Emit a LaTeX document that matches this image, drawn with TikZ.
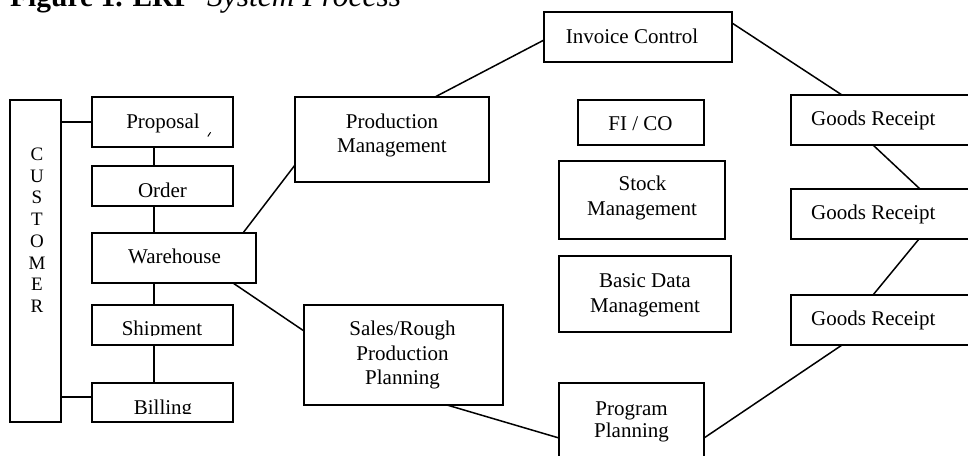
\documentclass[tikz,border=0pt]{standalone}
\usepackage{fontspec}
\setmainfont{Liberation Serif}
\usetikzlibrary{calc}
\begin{document}
\begin{tikzpicture}[x=1pt,y=-1pt,
  box/.style={draw,line width=1.8pt,rectangle,inner sep=0pt,outer sep=0pt,anchor=north west},
  conn/.style={line width=1.5pt},
  lbl/.style={anchor=base,inner sep=0pt,font=\fontsize{21}{25}\selectfont},
  lbll/.style={anchor=base west,inner sep=0pt,font=\fontsize{21}{25}\selectfont},
  ltr/.style={anchor=base,inner sep=0pt,font=\fontsize{19}{22}\selectfont}]
\useasboundingbox (0,0) rectangle (968,455);

% title (partly cut off at the top, as in the reference)
\node[anchor=base west,inner sep=0pt,font=\fontsize{29.5}{34}\selectfont\bfseries] (t1) at (10,6.5) {Figure 1. ERP};
\node[anchor=base west,inner sep=0pt,font=\fontsize{31.5}{36}\selectfont\itshape] (t2) at (207,6.5) {System Process};

% boxes
\node[box,minimum width=51pt,minimum height=322pt] (cust) at (10,100) {};
\node[box,minimum width=141pt,minimum height=50pt] (prop) at (92,97) {};
\node[box,minimum width=141pt,minimum height=40pt] (order) at (92,166) {};
\node[box,minimum width=164pt,minimum height=50pt] (wh) at (92,233) {};
\node[box,minimum width=141pt,minimum height=40pt] (ship) at (92,305) {};
\node[box,minimum width=141pt,minimum height=39pt] (bill) at (92,383) {};
\node[box,minimum width=194pt,minimum height=85pt] (pm) at (295,97) {};
\node[box,minimum width=188pt,minimum height=50pt] (inv) at (544,12) {};
\node[box,minimum width=126pt,minimum height=45pt] (fico) at (578,100) {};
\node[box,minimum width=166pt,minimum height=78pt] (stock) at (559,161) {};
\node[box,minimum width=172pt,minimum height=76pt] (basic) at (559,256) {};
\node[box,minimum width=199pt,minimum height=100pt] (sales) at (304,305) {};
\node[box,minimum width=145pt,minimum height=90pt] (prog) at (559,383) {};
\node[box,minimum width=199pt,minimum height=50pt] (g1) at (791,95) {};
\node[box,minimum width=199pt,minimum height=50pt] (g2) at (791,189) {};
\node[box,minimum width=199pt,minimum height=50pt] (g3) at (791,295) {};

% texts
\foreach \l [count=\i] in {C,U,S,T,O,M,E,R}
  \node[ltr] (cust\i) at (37,{160.5+(\i-1)*21.7}) {\l};
\node[lbl] (propt) at (163,128) {Proposal};
\draw[line width=1pt] (207.8,136.5) -- (210.6,132.3);
\node[lbl] (ordert) at (162.5,197) {Order};
\node[lbl] (wht) at (174.5,263) {Warehouse};
\begin{scope}
  \clip (92,305) rectangle (233,335.3);
  \node[lbl] (shipt) at (162,335) {Shipment};
\end{scope}
\begin{scope}
  \clip (92,383) rectangle (233,413.6);
  \node[lbl] (billt) at (163,414) {Billing};
\end{scope}
\node[lbl] (pmt1) at (392,128) {Production};
\node[lbl] (pmt2) at (392,152) {Management};
\node[lbl] (invt) at (632,43) {Invoice Control};
\node[lbl] (ficot) at (640.5,130) {FI / CO};
\node[lbl] (stockt1) at (642.5,190) {Stock};
\node[lbl] (stockt2) at (642,215) {Management};
\node[lbl] (basict1) at (645,287) {Basic Data};
\node[lbl] (basict2) at (645,312) {Management};
\node[lbl] (salest1) at (402.5,335) {Sales/Rough};
\node[lbl] (salest2) at (402.5,360) {Production};
\node[lbl] (salest3) at (402.5,384) {Planning};
\node[lbl] (progt1) at (631.5,415) {Program};
\node[lbl] (progt2) at (631.5,437) {Planning};
\node[lbll] (g1t) at (811,125) {Goods Receipt};
\node[lbll] (g2t) at (811,219) {Goods Receipt};
\node[lbll] (g3t) at (811,325) {Goods Receipt};

% connectors
\coordinate (bw) at ([yshift=5.5pt]bill.west);
\draw[conn] (cust.east |- prop.west) -- (prop.west);
\draw[conn] (cust.east |- bw) -- (bw);
\draw[conn] ([xshift=-8.5pt]prop.south) -- ([xshift=-8.5pt]order.north);
\draw[conn] ([xshift=-8.5pt]order.south) -- ([xshift=62pt]wh.north west);
\draw[conn] ([xshift=62pt]wh.south west) -- ([xshift=-8.5pt]ship.north);
\draw[conn] ([xshift=-8.5pt]ship.south) -- ([xshift=-8.5pt]bill.north);
\draw[conn] ([xshift=151pt]wh.north west) -- ([yshift=-68pt]pm.north west);
\draw[conn] ([xshift=140pt]pm.north west) -- ([yshift=-28pt]inv.north west);
\draw[conn] ([yshift=-11pt]inv.north east) -- ([xshift=51pt]g1.north west);
\draw[conn] ([xshift=82pt]g1.south west) -- ([xshift=129pt]g2.north west);
\draw[conn] ([xshift=128pt]g2.south west) -- ([xshift=82pt]g3.north west);
\draw[conn] ([xshift=51pt]g3.south west) -- ([yshift=-55pt]prog.north east);
\draw[conn] ([xshift=-23pt]wh.south east) -- ([yshift=-26pt]sales.north west);
\draw[conn] ([xshift=143pt]sales.south west) -- ([yshift=-55pt]prog.north west);
\end{tikzpicture}
\end{document}
